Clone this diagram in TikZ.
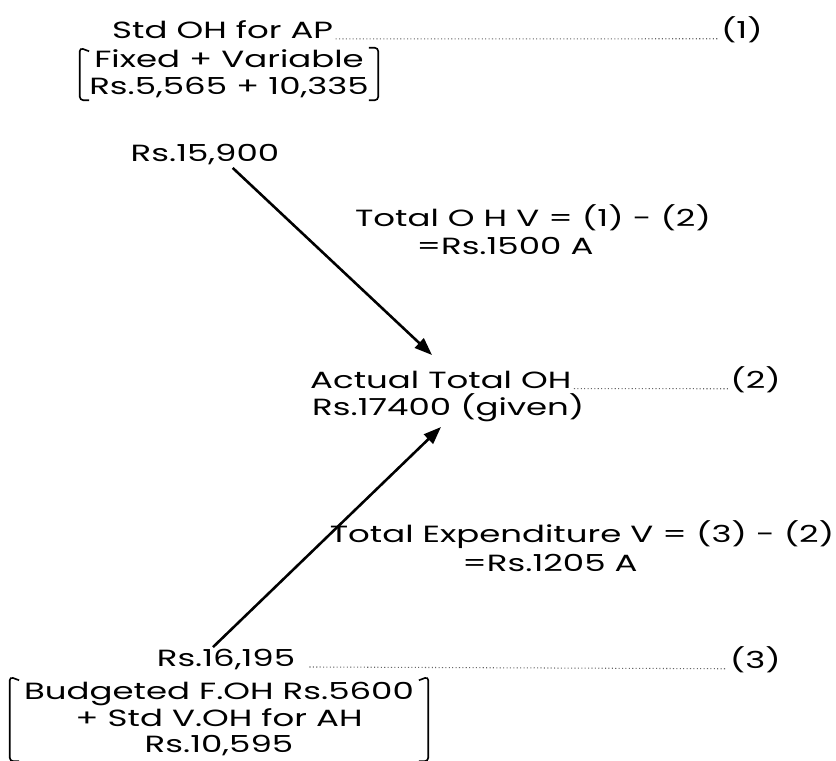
\documentclass[tikz,border=0pt]{standalone}
\usepackage{fontspec}
\setmainfont{Poppins}[FakeStretch=1.45]
\usetikzlibrary{arrows.meta}

\tikzset{
  lbl/.style={inner sep=0pt, font=\fontsize{20}{23}\selectfont},
  lead/.style={dotted, line width=0.9pt, black!60},
  brk/.style={line width=1.4pt, rounded corners=3pt},
  arr/.style={-{Triangle[length=15pt,width=11pt]}, line width=2.2pt}
}

\begin{document}
\begin{tikzpicture}[x=0.03cm, y=-0.03cm]
\useasboundingbox (0,0) rectangle (836,761);

% standard overhead for actual production
\node [lbl, anchor=west] (stdoh) at (112,30) {Std OH for AP};
\node [lbl, anchor=east] (one) at (763,30) {(1)};
\draw [lead] ([xshift=2pt]stdoh.base east) -- ([xshift=-2pt]one.base west);

\node [lbl, align=center, minimum width=8.94cm, minimum height=1.56cm] (fixvar) at (229,74) {Fixed + Variable\\Rs.5,565 + 10,335};
\draw [brk] ([xshift=8pt,yshift=-3pt]fixvar.north west) -- (fixvar.north west) -- (fixvar.south west) -- ([xshift=8pt]fixvar.south west);
\draw [brk] ([xshift=-8pt]fixvar.north east) -- (fixvar.north east) -- (fixvar.south east) -- ([xshift=-8pt]fixvar.south east);

\node [lbl] (sfirst) at (205,155) {Rs.15,900};

% actual overhead
\node [lbl, anchor=west] (actual) at (310,380) {Actual Total OH};
\node [lbl, anchor=east] (two) at (781,380) {(2)};
\draw [lead] ([xshift=2pt]actual.base east) -- ([xshift=-2pt]two.base west);
\node [lbl, anchor=west] (given) at (312,408) {Rs.17400 (given)};

% budgeted overhead for actual hours
\node [lbl] (ssecond) at (226,660) {Rs.16,195};
\node [lbl, anchor=east] (three) at (781,660) {(3)};
\draw [lead] ([xshift=12pt]ssecond.base east) -- ([xshift=-2pt]three.base west);

\node [lbl, align=center, minimum width=12.54cm, minimum height=2.52cm] (budget) at (219,719) {Budgeted F.OH Rs.5600\\+ Std V.OH for AH\\Rs.10,595};
\draw [brk] ([xshift=8pt,yshift=-3pt]budget.north west) -- (budget.north west) -- (budget.south west) -- ([xshift=8pt]budget.south west);
\draw [brk] ([xshift=-8pt,yshift=-3pt]budget.north east) -- (budget.north east) -- (budget.south east) -- ([xshift=-8pt]budget.south east);

% variances
\draw [arr] ([xshift=0.83cm,yshift=-2pt]sfirst.south) -- (432,355);
\node [lbl] (ohv) at (533,218) {Total O H V = (1) - (2)};
\node [lbl] (ohva) at (505,246) {=Rs.1500 A};

\draw [arr] ([xshift=-0.39cm,yshift=2pt]ssecond.north) -- (441,427);
\node [lbl] (tev) at (582,535) {Total Expenditure V = (3) - (2)};
\node [lbl] (teva) at (550,563) {=Rs.1205 A};
\end{tikzpicture}
\end{document}
